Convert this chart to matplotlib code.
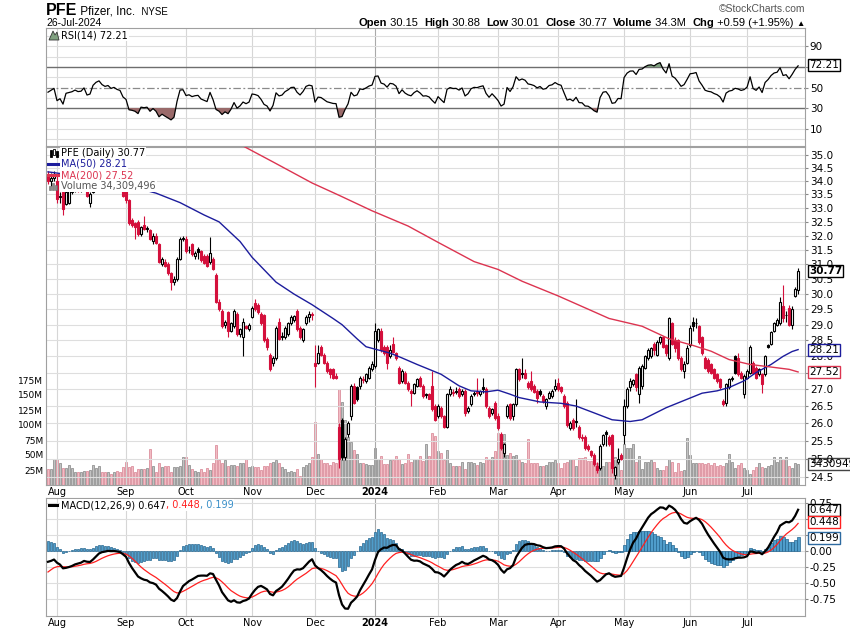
import numpy as np
import pandas as pd
import matplotlib
matplotlib.use("Agg")
import matplotlib.pyplot as plt
from matplotlib.ticker import FixedLocator, FuncFormatter, NullLocator
from matplotlib.patches import Rectangle, Polygon
from matplotlib.lines import Line2D

W, H = 850, 633

# trading days shown: 27-Jul-2023 .. 26-Jul-2024
holidays = ["2023-09-04", "2023-11-23", "2023-12-25", "2024-01-01", "2024-01-15",
            "2024-02-19", "2024-03-29", "2024-05-27", "2024-06-19", "2024-07-04"]
dates = pd.bdate_range("2023-07-27", "2024-07-26")
dates = dates[~dates.isin(pd.to_datetime(holidays))]

# daily candles (one row per month)
opens = [
    34.2, 34.0, 34.1,
    34.0, 33.4, 33.6, 33.15, 33.2, 33.6, 33.7, 33.75, 33.7, 33.8, 33.9, 33.2, 33.6, 34.0, 34.2, 34.3, 34.1, 34.0, 34.0, 33.9, 33.95, 33.85, 33.75,
    33.7, 33.3, 32.55, 32.45, 32.5, 32.05, 32.4, 32.25, 32.2, 31.8, 32.0, 31.7, 31.0, 31.1, 31.0, 30.7, 30.4, 30.5, 31.2, 31.9,
    31.9, 31.5, 31.7, 31.3, 31.55, 31.45, 31.3, 31.3, 31.1, 31.2, 30.65, 29.75, 29.45, 29.0, 29.4, 28.8, 28.95, 29.35, 28.7, 28.6, 28.95, 28.85,
    29.25, 29.7, 29.65, 29.35, 29.3, 28.55, 28.05, 27.8, 27.95, 29.1, 28.65, 28.6, 28.7, 29.05, 29.15, 29.45, 28.9, 28.5, 29.05, 29.25, 29.35,
    27.8, 27.8, 28.3, 28.05, 27.8, 27.6, 27.6, 27.4, 25.9, 26.1, 25.05, 25.7, 26.2, 27.1, 27.05, 27.1, 27.3, 27.25, 27.35, 27.6,
    27.7, 28.5, 28.8, 28.3, 28.3, 28.0, 28.4, 28.1, 27.65, 27.25, 27.5, 27.2, 26.95, 26.9, 27.1, 27.35, 27.1, 26.85, 26.85, 27.1, 26.5,
    26.2, 26.45, 26.2, 25.9, 26.85, 26.9, 26.95, 27.0, 26.85, 26.95, 26.35, 26.55, 26.85, 26.95, 26.85, 27.05, 27.0, 26.45, 26.3, 26.6,
    26.2, 25.7, 25.15, 26.2, 26.55, 26.2, 26.55, 27.6, 27.5, 27.5, 27.2, 27.25, 27.1, 26.95, 26.95, 26.8, 26.5, 26.75, 26.8, 27.0,
    27.2, 27.05, 26.8, 26.6, 25.85, 26.1, 26.05, 25.9, 25.62, 25.6, 25.35, 25.2, 25.1, 24.8, 24.75, 25.4, 25.75, 25.6, 25.65, 24.55, 24.9, 25.1,
    25.65, 26.5, 27.05, 27.15, 27.45, 26.85, 27.1, 27.65, 27.95, 28.0, 28.4, 28.05, 28.45, 28.6, 28.35, 27.95, 29.05, 28.5, 28.5, 27.95, 27.55, 27.8,
    28.35, 29.1, 29.05, 28.95, 28.6, 27.95, 27.9, 27.75, 27.6, 27.45, 27.3, 26.65, 26.6, 27.05, 27.3, 28.0, 27.95, 27.5, 26.85,
    27.35, 27.5, 27.8, 27.65, 27.45, 27.45, 27.45, 28.35, 28.4, 28.8, 29.0, 29.05, 29.6, 29.3, 29.55, 29.0, 29.95, 30.15,
]
highs = [
    34.4, 34.3, 34.4,
    34.2, 33.6, 33.7, 33.7, 33.9, 33.85, 33.9, 33.85, 33.8, 34.0, 33.95, 33.6, 34.1, 34.3, 34.45, 34.35, 34.2, 34.15, 34.1, 34.05, 34.0, 33.95, 33.8,
    33.8, 33.35, 32.65, 32.5, 32.55, 32.35, 32.7, 32.35, 32.25, 32.1, 32.1, 31.75, 31.25, 31.2, 31.1, 30.75, 30.6, 31.25, 31.95, 32.0,
    32.0, 31.65, 31.75, 31.45, 31.6, 31.5, 31.35, 31.35, 31.95, 31.25, 30.7, 29.85, 29.5, 29.15, 29.45, 29.1, 29.5, 29.4, 28.9, 29.2, 29.0, 29.05,
    29.6, 29.85, 29.7, 29.4, 29.35, 28.6, 28.1, 28.0, 28.95, 29.2, 28.75, 28.95, 29.1, 29.3, 29.3, 29.5, 28.95, 28.9, 29.3, 29.45, 29.4,
    28.35, 28.35, 28.35, 28.1, 27.85, 27.65, 27.65, 27.5, 26.0, 26.15, 25.6, 26.05, 27.15, 27.2, 27.1, 27.4, 27.4, 27.5, 27.7, 27.85,
    29.05, 28.9, 28.9, 28.35, 28.35, 28.35, 28.6, 28.15, 27.7, 27.6, 27.55, 27.25, 27.0, 27.2, 27.35, 27.4, 27.15, 26.9, 26.9, 27.55, 26.55,
    26.55, 26.5, 26.25, 26.9, 27.1, 27.0, 27.05, 27.05, 27.0, 27.0, 26.5, 26.85, 26.95, 27.35, 26.98, 27.35, 27.05, 26.5, 26.45, 26.65,
    26.3, 25.75, 25.45, 26.55, 26.6, 26.6, 27.65, 27.65, 27.95, 27.6, 27.25, 27.55, 27.15, 27.0, 27.0, 26.85, 26.75, 26.95, 27.0, 27.3,
    27.35, 27.1, 26.85, 26.65, 26.05, 26.15, 26.7, 25.95, 25.7, 25.65, 25.4, 25.25, 25.15, 24.9, 25.4, 25.7, 25.8, 25.65, 25.7, 24.8, 25.3, 25.15,
    26.7, 27.05, 27.35, 27.3, 27.5, 27.7, 27.75, 28.05, 28.25, 28.3, 28.45, 28.5, 28.65, 28.65, 28.4, 29.25, 29.1, 28.6, 28.55, 28.0, 27.85, 28.35,
    29.0, 29.25, 29.2, 29.0, 28.65, 28.0, 27.95, 27.8, 27.65, 27.5, 27.35, 26.7, 27.2, 27.35, 27.4, 28.05, 28.1, 27.55, 27.45,
    27.6, 28.35, 27.85, 27.7, 27.65, 27.5, 28.05, 28.4, 28.8, 29.1, 29.2, 29.9, 30.3, 29.45, 29.65, 29.6, 30.25, 30.88,
]
lows = [
    33.9, 33.8, 34.0,
    33.2, 33.2, 32.75, 33.1, 33.15, 33.5, 33.6, 33.6, 33.6, 33.7, 33.4, 33.05, 33.55, 33.9, 34.1, 34.0, 33.9, 33.9, 33.8, 33.8, 33.75, 33.7, 33.4,
    33.2, 32.4, 32.3, 31.9, 32.0, 32.0, 32.2, 32.15, 31.85, 31.7, 31.7, 31.05, 30.95, 30.9, 30.65, 30.15, 30.3, 30.45, 31.15, 31.8,
    31.4, 31.4, 31.3, 31.2, 31.2, 31.1, 31.0, 30.9, 31.0, 30.8, 29.7, 29.45, 28.9, 28.9, 28.6, 28.75, 28.9, 28.65, 28.6, 28.0, 28.85, 28.8,
    29.2, 29.45, 29.35, 29.0, 28.45, 28.2, 27.55, 27.7, 27.9, 28.5, 28.5, 28.55, 28.65, 29.0, 29.1, 28.8, 28.55, 28.45, 29.0, 29.1, 29.15,
    27.05, 27.75, 28.0, 27.75, 27.5, 27.35, 27.3, 27.3, 24.75, 24.95, 24.95, 25.6, 26.1, 26.55, 26.65, 27.0, 27.2, 27.2, 27.3, 27.55,
    27.65, 28.45, 28.15, 28.05, 27.6, 27.95, 28.1, 27.9, 27.15, 27.2, 27.15, 26.95, 26.5, 26.85, 27.05, 27.05, 26.75, 26.75, 26.7, 26.35, 26.05,
    26.15, 26.15, 25.85, 25.85, 26.8, 26.8, 26.85, 26.75, 26.8, 26.2, 26.3, 26.5, 26.8, 26.8, 26.8, 26.9, 26.45, 26.15, 26.25, 26.1,
    25.8, 25.25, 25.05, 26.15, 26.1, 26.1, 26.5, 27.25, 27.35, 27.3, 27.0, 26.95, 26.9, 26.6, 26.8, 26.6, 26.4, 26.7, 26.75, 26.95,
    26.95, 26.9, 26.45, 25.9, 25.8, 25.8, 25.9, 25.55, 25.5, 25.25, 25.2, 25.05, 24.8, 24.6, 24.7, 25.35, 25.35, 25.35, 24.6, 24.45, 24.85, 24.95,
    25.4, 26.45, 26.95, 27.1, 26.95, 26.6, 27.0, 27.6, 27.9, 27.95, 28.05, 28.0, 28.4, 28.25, 28.0, 27.9, 28.35, 28.15, 27.9, 27.55, 27.35, 27.75,
    28.3, 28.8, 28.9, 28.4, 28.05, 27.6, 27.5, 27.45, 27.3, 27.2, 27.0, 26.5, 26.5, 27.0, 27.25, 27.45, 27.4, 27.3, 26.75,
    27.3, 27.45, 27.45, 27.3, 27.4, 26.9, 27.4, 28.25, 28.35, 28.75, 28.95, 29.0, 29.1, 29.1, 28.95, 28.85, 29.9, 30.01,
]
closes = [
    34.0, 34.1, 34.2,
    33.35, 33.45, 32.97, 33.6, 33.65, 33.7, 33.8, 33.7, 33.72, 33.9, 33.45, 33.5, 34.0, 34.2, 34.3, 34.1, 34.0, 34.05, 33.9, 33.95, 33.85, 33.8, 33.45,
    33.3, 32.45, 32.4, 32.3, 32.05, 32.3, 32.25, 32.27, 31.9, 32.0, 31.75, 31.1, 31.2, 30.95, 30.7, 30.4, 30.5, 31.2, 31.9, 31.92,
    31.45, 31.5, 31.35, 31.4, 31.42, 31.15, 31.05, 30.95, 31.4, 30.85, 29.75, 29.5, 28.95, 29.1, 28.8, 29.05, 29.45, 28.7, 28.85, 29.1, 28.9, 29.0,
    29.55, 29.5, 29.4, 29.05, 28.5, 28.3, 27.6, 27.95, 28.9, 28.55, 28.62, 28.9, 29.05, 29.25, 29.27, 28.85, 28.6, 28.85, 29.25, 29.35, 29.3,
    27.7, 28.1, 28.05, 27.8, 27.55, 27.45, 27.35, 27.33, 25.0, 25.05, 25.55, 26.0, 27.1, 26.6, 26.7, 27.35, 27.28, 27.45, 27.65, 27.75,
    28.8, 28.85, 28.2, 28.1, 27.8, 28.2, 28.15, 27.95, 27.2, 27.55, 27.2, 27.0, 26.9, 27.15, 27.3, 27.1, 26.8, 26.82, 26.72, 26.4, 26.1,
    26.5, 26.2, 25.9, 26.85, 27.0, 26.92, 26.93, 26.8, 26.95, 26.3, 26.45, 26.8, 26.9, 26.88, 26.95, 27.0, 26.5, 26.2, 26.4, 26.15,
    25.85, 25.3, 25.4, 26.5, 26.15, 26.55, 27.6, 27.3, 27.45, 27.35, 27.05, 27.0, 26.92, 26.75, 26.85, 26.65, 26.7, 26.9, 26.95, 27.1,
    27.0, 26.95, 26.5, 25.95, 26.0, 25.85, 26.03, 25.6, 25.58, 25.3, 25.28, 25.1, 24.85, 24.7, 25.35, 25.65, 25.68, 25.4, 24.75, 24.78, 25.0, 24.98,
    26.5, 27.0, 27.25, 27.27, 27.05, 27.65, 27.7, 28.0, 28.2, 28.25, 28.2, 28.45, 28.6, 28.3, 28.1, 29.2, 28.4, 28.25, 27.95, 27.6, 27.75, 28.25,
    28.9, 28.95, 29.05, 28.45, 28.1, 27.65, 27.55, 27.5, 27.35, 27.25, 27.05, 26.55, 27.15, 27.3, 27.35, 27.5, 27.45, 27.35, 27.4,
    27.55, 28.3, 27.5, 27.35, 27.6, 27.15, 28.0, 28.3, 28.75, 29.05, 29.15, 29.75, 29.2, 29.3, 29.0, 29.5, 30.18, 30.77,
]
# volume in millions of shares
volumes = [
    26, 26, 43,
    43, 36, 29, 29, 33, 29, 21, 22, 21, 24, 24, 25, 33, 28, 32, 22, 22, 22, 19, 22, 24, 21, 30,
    38, 30, 32, 21, 26, 26, 27, 28, 60, 32, 21, 36, 30, 32, 32, 22, 30, 30, 31, 46,
    47, 33, 26, 24, 22, 26, 22, 28, 25, 36, 67, 42, 36, 42, 31, 33, 33, 31, 36, 36, 44, 30,
    32, 30, 30, 25, 32, 32, 36, 39, 42, 36, 30, 26, 21, 24, 22, 26, 15, 30, 33, 36, 47,
    105, 52, 43, 36, 37, 33, 39, 36, 160, 138, 108, 80, 72, 58, 52, 36, 36, 35, 33, 33,
    62, 44, 48, 35, 35, 41, 41, 48, 44, 35, 36, 52, 39, 44, 44, 48, 40, 68, 48, 87, 82,
    56, 53, 41, 58, 37, 32, 32, 32, 39, 26, 38, 38, 36, 33, 39, 36, 46, 41, 47, 57,
    86, 65, 85, 50, 54, 48, 50, 41, 39, 36, 76, 36, 36, 36, 32, 32, 34, 39, 39, 41,
    36, 28, 36, 39, 43, 43, 32, 45, 45, 47, 40, 40, 47, 36, 40, 32, 39, 39, 47, 47, 36, 25,
    68, 61, 61, 68, 39, 48, 26, 39, 39, 41, 39, 28, 25, 25, 32, 44, 39, 22, 36, 24, 25, 79,
    50, 36, 37, 36, 36, 35, 36, 33, 36, 32, 33, 32, 36, 52, 39, 28, 33, 36, 28,
    25, 18, 25, 30, 36, 30, 28, 32, 33, 47, 39, 46, 43, 47, 31, 28, 37, 34.309496,
]

# moving averages at selected bars
ma50_idx = [0, 10, 20, 31, 36, 44, 52, 57, 64, 68, 76, 82, 88, 95, 98, 103, 106, 110, 114, 118, 123, 127,
            131, 137, 141, 146, 150, 154, 157, 164, 171, 176, 182, 188, 194, 198, 206, 213, 218, 223, 227,
            232, 236, 241, 245, 248, 250]
ma50_val = [34.35, 34.2, 34.0, 33.7, 33.55, 33.2, 32.75, 32.5, 31.8, 31.25, 30.4, 30.0, 29.65, 29.2, 29.0, 28.55,
            28.3, 28.2, 28.1, 27.95, 27.75, 27.6, 27.45, 27.1, 26.95, 26.92, 26.97, 26.85, 26.75, 26.62, 26.58,
            26.5, 26.3, 26.1, 26.05, 26.1, 26.45, 26.7, 26.88, 26.95, 27.05, 27.25, 27.5, 27.75, 28.0, 28.15, 28.21]
ma200_idx = [50, 65, 75, 88, 97, 108, 120, 130, 142, 150, 158, 170, 181, 187, 198, 207, 215, 221, 227, 234, 241, 247, 250]
ma200_val = [36.3, 35.35, 34.73, 33.93, 33.47, 32.9, 32.35, 31.77, 31.1, 30.83, 30.43, 29.94, 29.46, 29.2, 28.95,
             28.55, 28.34, 28.16, 27.9, 27.75, 27.67, 27.6, 27.52]

price_ticks = [24.5, 25.0, 25.5, 26.0, 26.5, 27.0, 27.5, 28.0, 28.5, 29.0, 29.5, 30.0, 30.5,
               31.0, 31.5, 32.0, 32.5, 33.0, 33.5, 34.0, 34.5, 35.0]
vol_ticks = [25, 50, 75, 100, 125, 150, 175]
rsi_ticks = [10, 30, 50, 70, 90]
rsi_grid = [0, 10, 20, 40, 60, 80, 90, 100]
macd_ticks = [-0.75, -0.5, -0.25, 0.0, 0.25, 0.5, 0.75]
# axis labels that the value tags sit on top of in the reference
hidden_price = [27.5]
hidden_rsi = [70]
hidden_macd = [0.25, 0.5]

rsi_seed = (0.10, 0.12)
macd_seed = (34.08, 34.25, -0.33)

last_rsi, last_macd, last_signal, last_hist = 72.21, 0.647, 0.448, 0.199

o = np.array(opens); h = np.array(highs); l = np.array(lows); c = np.array(closes)
v = np.array(volumes)
n = len(c)
x = np.arange(n)


def wilder_rsi(cl, seed, period=14):
    ag, al = seed
    out = [100 - 100 / (1 + ag / al)]
    for d in np.diff(cl):
        ag = (ag * (period - 1) + max(d, 0)) / period
        al = (al * (period - 1) + max(-d, 0)) / period
        out.append(100 - 100 / (1 + ag / al))
    return np.array(out)


def macd_lines(cl, seed):
    e12, e26, sig = seed
    m_out, s_out = [e12 - e26], [sig]
    for p in cl[1:]:
        e12 += 2 / 13 * (p - e12)
        e26 += 2 / 27 * (p - e26)
        sig += 2 / 10 * ((e12 - e26) - sig)
        m_out.append(e12 - e26)
        s_out.append(sig)
    return np.array(m_out), np.array(s_out)


rsi = wilder_rsi(c, rsi_seed)
macd, signal = macd_lines(c, macd_seed)
hist = macd - signal

month_idx = [i for i in range(1, n) if dates[i].month != dates[i - 1].month]
month_lbl = ["2024" if dates[i].month == 1 else dates[i].strftime("%b") for i in month_idx]

fig = plt.figure(figsize=(W / 100, H / 100), dpi=100)


def rect(top, bottom, left=46, right=805):
    return [left / W, 1 - bottom / H, (right - left) / W, (bottom - top) / H]


def fx(px):
    return px / W


def fy(py):
    return 1 - py / H


def skip_fmt(fmt, hidden):
    return FuncFormatter(lambda val, pos: "" if any(abs(val - hv) < 1e-6 for hv in hidden) else fmt.format(val))


ax_r = fig.add_axes(rect(28, 146))
ax_v = fig.add_axes(rect(147, 485))
ax_p = fig.add_axes(rect(147, 485))
ax_m = fig.add_axes(rect(498, 616))
ax_p.patch.set_visible(False)

XL = (-0.67, 252.3)
GRID = "#dedede"
for ax in (ax_r, ax_v, ax_p, ax_m):
    ax.set_xlim(XL)
    for s in ax.spines.values():
        s.set_color("#a0a0a0")
        s.set_linewidth(0.8)
for s in ax_v.spines.values():
    s.set_visible(False)

for ax in (ax_r, ax_p, ax_m):
    for i, lab in zip(month_idx, month_lbl):
        ax.axvline(i, color="#aaaaaa" if lab == "2024" else "#d6d6d6", lw=0.8, zorder=0)
    ax.set_xticks(month_idx)
    ax.set_xticklabels(month_lbl)
    ax.tick_params(axis="x", length=0, labelsize=7, pad=1.5)
    for t in ax.get_xticklabels():
        if t.get_text() == "2024":
            t.set_fontweight("bold")
ax_r.tick_params(axis="x", labelbottom=False)

# ---- volume (under the candles)
prev = np.r_[o[0], c[:-1]]
up = c >= prev
ax_v.bar(x, v, width=0.92, color=np.where(up, "#c2c2c2", "#f2bcc4"),
         edgecolor=np.where(up, "#939393", "#dc909e"), linewidth=0.6)
ax_v.set_ylim(0, 338 / 0.6)
ax_v.set_xticks([])
ax_v.yaxis.set_major_locator(FixedLocator(vol_ticks))
ax_v.yaxis.set_major_formatter(FuncFormatter(lambda val, pos: f"{val:.0f}M"))
ax_v.tick_params(axis="y", length=0, labelsize=6.5, pad=2)

# ---- price panel
ax_p.set_yscale("log")
ax_p.set_ylim(24.28, 35.31)
for t in price_ticks:
    ax_p.axhline(t, color=GRID, lw=0.8, zorder=0)
ax_p.yaxis.set_major_locator(FixedLocator(price_ticks))
ax_p.yaxis.set_minor_locator(NullLocator())
ax_p.yaxis.set_major_formatter(skip_fmt("{:.1f}", hidden_price))
ax_p.yaxis.tick_right()
ax_p.tick_params(axis="y", which="both", length=2, labelsize=7.5, pad=1.5, color="#888888")

edge = np.where(up, "#000000", "#d4103c")
face = np.where(c > o, "#ffffff", edge)
ax_p.vlines(x, l, h, colors=edge, lw=0.8, zorder=3)
ax_p.bar(x, np.maximum(np.abs(c - o), 0.015), bottom=np.minimum(o, c), width=0.72,
         color=face, edgecolor=edge, linewidth=0.8, zorder=4)
ax_p.plot(ma50_idx, ma50_val, color="#1c1c9c", lw=1.0, zorder=5)
ax_p.plot(ma200_idx, ma200_val, color="#dc3450", lw=1.0, zorder=5)


def tag(ax, yval, s, ec, bold=False, size=7.5):
    ax.annotate(s, xy=(1.0, yval), xycoords=("axes fraction", "data"), xytext=(3, 0),
                textcoords="offset points", ha="left", va="center", fontsize=size,
                fontweight="bold" if bold else "normal", color="black", annotation_clip=False,
                bbox=dict(boxstyle="square,pad=0.1", fc="white", ec=ec, lw=1.0), zorder=10)


tag(ax_p, c[-1], f"{c[-1]:.2f}", "black", bold=True)
tag(ax_p, ma50_val[-1], f"{ma50_val[-1]:.2f}", "#1c1c9c")
tag(ax_p, ma200_val[-1], f"{ma200_val[-1]:.2f}", "#dc3450")
tag(ax_v, v[-1], "34309496", "#444444")

# legend of price panel
lg = dict(fontsize=7, va="center", ha="left", zorder=20,
          bbox=dict(fc="white", ec="none", pad=0.8))
fig.text(fx(61), fy(153), "PFE (Daily) 30.77", color="black", **lg)
fig.text(fx(61), fy(164), "MA(50) 28.21", color="#1c1c9c", **lg)
fig.text(fx(61), fy(175), "MA(200) 27.52", color="#dc3450", **lg)
fig.text(fx(61), fy(186), "Volume 34,309,496", color="#555555", **lg)
for x0, y0, y1, hol in [(50, 150, 157, False), (53, 149, 155, True), (56, 151, 157, False)]:
    fig.add_artist(Rectangle((fx(x0), fy(y1)), 2 / W, (y1 - y0) / H, transform=fig.transFigure,
                             fc="white" if hol else "black", ec="black", lw=0.6, zorder=21))
fig.add_artist(Line2D([fx(48), fx(58)], [fy(164), fy(164)], color="#1c1c9c", lw=2.2, zorder=21))
fig.add_artist(Line2D([fx(48), fx(58)], [fy(175), fy(175)], color="#dc3450", lw=2.2, zorder=21))
for x0, hh in [(49, 4), (52, 7), (55, 5)]:
    fig.add_artist(Rectangle((fx(x0), fy(190)), 2 / W, hh / H, transform=fig.transFigure,
                             fc="#888888", ec="#666666", lw=0.4, zorder=21))

# ---- RSI panel
ax_r.set_ylim(-7, 108)
for g in rsi_grid:
    ax_r.axhline(g, color=GRID, lw=0.8, zorder=0)
ax_r.axhline(70, color="#6e6e6e", lw=1.0, zorder=1)
ax_r.axhline(30, color="#6e6e6e", lw=1.0, zorder=1)
ax_r.axhline(50, color="#8a8a8a", lw=0.9, dashes=(6, 2, 1.5, 2), zorder=1)
ax_r.fill_between(x, rsi, 30, where=rsi < 30, interpolate=True, color="#9a6a6a", lw=0, zorder=2)
ax_r.fill_between(x, rsi, 70, where=rsi > 70, interpolate=True, color="#7fa07f", lw=0, zorder=2)
ax_r.plot(x, rsi, color="black", lw=0.9, zorder=3)
ax_r.yaxis.set_major_locator(FixedLocator(rsi_ticks))
ax_r.yaxis.set_major_formatter(skip_fmt("{:.0f}", hidden_rsi))
ax_r.yaxis.tick_right()
ax_r.tick_params(axis="y", length=2, labelsize=7.5, pad=1.5, color="#888888")
tag(ax_r, last_rsi, f"{last_rsi:.2f}", "black")
fig.text(fx(61), fy(35), "RSI(14) 72.21", color="black", **lg)
fig.add_artist(Polygon([[fx(49), fy(40)], [fx(53), fy(31)], [fx(55), fy(35)], [fx(57), fy(32)], [fx(59), fy(40)]],
                       closed=True, transform=fig.transFigure, fc="#7fa07f", ec="#333333", lw=0.6, zorder=21))

# ---- MACD panel
ax_m.set_ylim(-1.02, 0.83)
for t in macd_ticks:
    ax_m.axhline(t, color=GRID, lw=0.8, zorder=0)
ax_m.bar(x, hist, width=0.95, color="#4f9dcb", edgecolor="#24658f", linewidth=0.5, zorder=2)
ax_m.plot(x, signal, color="#ff2020", lw=0.9, zorder=3)
ax_m.plot(x, macd, color="black", lw=1.6, zorder=4)
ax_m.yaxis.set_major_locator(FixedLocator(macd_ticks))
ax_m.yaxis.set_major_formatter(skip_fmt("{:.2f}", hidden_macd))
ax_m.yaxis.tick_right()
ax_m.tick_params(axis="y", length=2, labelsize=7.5, pad=1.5, color="#888888")
tag(ax_m, last_macd, f"{last_macd:.3f}", "black")
tag(ax_m, last_signal, f"{last_signal:.3f}", "#ff2020")
tag(ax_m, last_hist, f"{last_hist:.3f}", "#2d6aa0")
fig.add_artist(Line2D([fx(49), fx(57)], [fy(505), fy(505)], color="black", lw=2.2, zorder=21))

renderer = fig.canvas.get_renderer()


def chain(y_px, pieces, x_left=None, x_right=None, va="baseline", bg=False):
    arts = []
    for s, color, weight, size, fam in pieces:
        kw = dict(bbox=dict(fc="white", ec="none", pad=0.5)) if bg else {}
        t = fig.text(0, fy(y_px), s, color=color, fontweight=weight, fontsize=size,
                     family=fam, va=va, ha="left", zorder=20, **kw)
        arts.append((t, t.get_window_extent(renderer).width))
    total = sum(wd for _, wd in arts)
    xp = x_left if x_left is not None else x_right - total
    for t, wd in arts:
        t.set_x(fx(xp))
        xp += wd


DV = ["DejaVu Sans"]
chain(505, [("MACD(12,26,9) 0.647", "black", "normal", 7, DV),
            (", 0.448", "#ff2020", "normal", 7, DV),
            (", 0.199", "#3a8fc8", "normal", 7, DV)], x_left=61, va="center", bg=True)

# ---- header
LS = ["Liberation Sans", "DejaVu Sans"]
chain(15, [("PFE", "black", "bold", 11.5, LS), (" Pfizer, Inc.", "black", "normal", 8.5, LS),
           ("  NYSE", "black", "normal", 7, LS)], x_left=46)
fig.text(fx(46), fy(26), "26-Jul-2024", fontsize=7.5, family=LS, va="baseline", color="black")
B, N = "bold", "normal"
chain(26, [("Open", "black", B, 8, LS), (" 30.15  ", "black", N, 8, LS),
           ("High", "black", B, 8, LS), (" 30.88  ", "black", N, 8, LS),
           ("Low", "black", B, 8, LS), (" 30.01  ", "black", N, 8, LS),
           ("Close", "black", B, 8, LS), (" 30.77  ", "black", N, 8, LS),
           ("Volume", "black", B, 8, LS), (" 34.3M  ", "black", N, 8, LS),
           ("Chg", "black", B, 8, LS), (" +0.59 (+1.95%) ", "black", N, 8, LS),
           ("\u25b2", "black", N, 6, LS)], x_right=805)
fig.text(fx(805), fy(12), "\u00a9StockCharts.com", fontsize=7.5, family=LS, color="#555555",
         ha="right", va="baseline")

fig.savefig("out.png", dpi=100)
